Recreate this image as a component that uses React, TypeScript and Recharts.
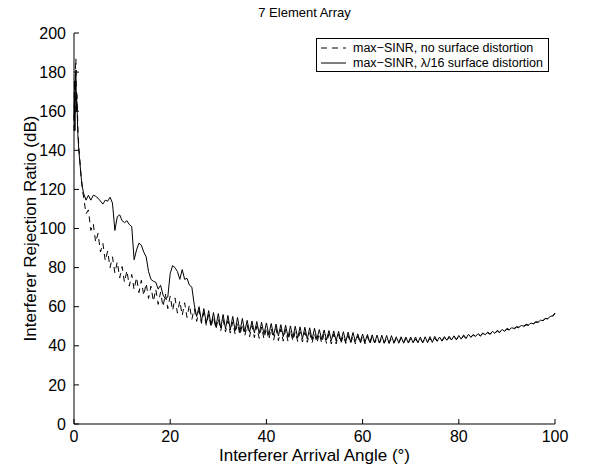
import { Legend, Line, LineChart, XAxis, YAxis } from "recharts"

// Angle grid: finer steps near broadside, then every half degree
const fineAngles = [0, 0.1, 0.2, 0.3, 0.4, 0.5, 0.6, 0.8, 1, 1.25, 1.5, 1.75, 2]
const coarseAngles = Array.from({ length: 196 }, (_, i) => 2.5 + i * 0.5)
const angles = [...fineAngles, ...coarseAngles]

// max-SINR, no surface distortion (dB)
const cleanDb = [
  150, 176, 158, 184, 187, 162, 170, 152, 142, 134, 126, 120, 116,
  107.5, 109.5, 99, 102.5, 93, 97.5, 88, 92.5, 83.5, 88.5, // 2.5 - 7
  80, 85.5, 77.2, 83, 74.7, 80.5, 72.5, 78.5, 70.5, 76.5, // 7.5 - 12
  68.7, 75, 67.2, 73.5, 65.7, 72, 64.2, 70.5, 62.7, 69, // 12.5 - 17
  61.2, 67.5, 60, 66.5, 59, 65.5, 58, 64.5, 56.7, 63, // 17.5 - 22
  55.5, 62, 54.5, 61, 53.5, 59, 52.5, 58, 51.5, 57, // 22.5 - 27
  50.5, 56, 49.5, 55, 48.5, 54, 47.7, 53.4, 47.1, 52.8, // 27.5 - 32
  46.5, 52.2, 45.9, 51.7, 45.4, 51.2, 45, 50.8, 44.6, 50.4, // 32.5 - 37
  44.2, 50, 43.8, 49.6, 43.4, 49.3, 43.1, 49, 42.9, 48.8, // 37.5 - 42
  42.6, 48.5, 42.4, 48.3, 42.1, 48, 42.4, 47.3, 42.2, 47.1, // 42.5 - 47
  42, 46.9, 41.8, 46.7, 41.6, 46.5, 41.4, 46.4, 41.3, 46.3, // 47.5 - 52
  41.2, 46.1, 41, 46, 41, 45.9, 41.3, 45.3, 41.2, 45.2, // 52.5 - 57
  41.1, 45.1, 41, 45, 41, 45, 41, 44.9, 40.9, 44.8, // 57.5 - 62
  41.5, 43.9, 41.5, 43.9, 41.4, 43.8, 41.4, 43.8, 41.3, 43.7, // 62.5 - 67
  41.3, 43.7, 41.3, 43.7, 41.3, 43.7, 41.7, 43.4, 41.8, 43.4, // 67.5 - 72
  41.9, 43.5, 42, 43.6, 42.1, 43.8, 42.3, 43.9, 42.4, 44.1, // 72.5 - 77
  42.6, 44.3, 42.9, 44.6, 43.1, 44.8, 43.7, 44.8, 44, 45.1, // 77.5 - 82
  44.3, 45.5, 44.7, 45.8, 45, 46.2, 45.4, 46.6, 45.9, 47.1, // 82.5 - 87
  46.3, 47.5, 46.8, 48, 47.3, 48.5, 48, 48.9, 48.6, 49.5, // 87.5 - 92
  49.2, 50.1, 49.8, 50.7, 50.4, 51.3, 51.1, 52.1, 52, 53, // 92.5 - 97
  52.9, 53.9, 53.8, 54.9, 55, 56.5, // 97.5 - 100
]

// max-SINR, lambda/16 surface distortion (dB)
const distortedDb = [
  155, 170, 150, 176, 181, 160, 165, 148, 140, 133, 126, 121, 118,
  114.5, 117, 114.5, 117, 116.5, 115.5, 114, 112.5, 114.5, 114, // 2.5 - 7
  116, 113, 99, 106, 107, 104, 103, 104, 102, 101, // 7.5 - 12
  84, 89, 92.5, 91.5, 88, 85.5, 78, 74, 73, 72.5, // 12.5 - 17
  69, 71, 66, 64, 65, 77, 81, 80, 78, 74, // 17.5 - 22
  79, 74, 74.5, 71, 70, 61, 55, 60, 52.5, 59, // 22.5 - 27
  51.5, 58, 50.5, 57, 49.7, 56.5, 49.2, 56, 48.7, 55.5, // 27.5 - 32
  48.2, 55, 47.7, 54.5, 47.2, 54, 47.2, 53, 46.9, 52.7, // 32.5 - 37
  46.5, 52.4, 46.2, 52, 45.9, 51.7, 45.6, 51.4, 45.3, 51.1, // 37.5 - 42
  45, 50.8, 44.7, 50.5, 44.4, 50.2, 44.1, 50, 43.9, 49.7, // 42.5 - 47
  43.6, 49.5, 43.4, 49.2, 43.1, 49, 43.4, 48.3, 43.2, 48.1, // 47.5 - 52
  43, 47.8, 42.7, 47.6, 42.5, 47.4, 42.3, 47.2, 42.1, 47, // 52.5 - 57
  41.9, 46.8, 42.2, 46.1, 42, 46, 41.9, 45.8, 41.7, 45.6, // 57.5 - 62
  41.5, 45.5, 41.4, 45.4, 41.3, 45.3, 41.2, 45.2, 41.6, 44.6, // 62.5 - 67
  41.6, 44.6, 41.5, 44.5, 41.5, 44.5, 41.5, 44.5, 41.5, 44.5, // 67.5 - 72
  41.5, 44.6, 41.6, 44.7, 41.7, 44.8, 42.4, 44.5, 42.6, 44.7, // 72.5 - 77
  42.8, 44.9, 43, 45.1, 43.2, 45.3, 43.4, 45.6, 43.7, 45.9, // 77.5 - 82
  44.4, 45.8, 44.8, 46.2, 45.2, 46.6, 45.6, 47, 46, 47.4, // 82.5 - 87
  46.4, 47.9, 46.9, 48.4, 47.4, 48.9, 48.3, 49.2, 48.9, 49.8, // 87.5 - 92
  49.5, 50.4, 50.1, 51, 50.7, 51.6, 51.3, 52.3, 52.1, 53.1, // 92.5 - 97
  52.9, 54, 53.9, 55, 55.3, 56.8, // 97.5 - 100
]

const xTicks = [0, 20, 40, 60, 80, 100]
const yTicks = [0, 20, 40, 60, 80, 100, 120, 140, 160, 180, 200]

const legendItems = [
  { label: "max\u2212SINR, no surface distortion", dash: "6 5" },
  { label: "max\u2212SINR, \u03bb/16 surface distortion", dash: undefined },
]

const rows = angles.map((angle, i) => ({
  angle,
  clean: cleanDb[i],
  distorted: distortedDb[i],
}))

const FONT = '"Liberation Sans", Arial, Helvetica, sans-serif'
const blank = () => ""

function LegendBox() {
  return (
    <div
      style={{
        width: 233,
        height: 34,
        boxSizing: "border-box",
        border: "1px solid #000",
        background: "#fff",
        fontSize: 12.5,
        color: "#000",
        paddingTop: 2,
        lineHeight: "14px",
      }}
    >
      {legendItems.map((item) => (
        <div key={item.label} style={{ display: "flex", alignItems: "center", height: 14.5 }}>
          <svg width={36} height={10} style={{ flex: "none" }}>
            <line x1={4} x2={29} y1={5} y2={5} stroke="#000" strokeWidth={1} strokeDasharray={item.dash} />
          </svg>
          <span style={{ whiteSpace: "nowrap" }}>{item.label}</span>
        </div>
      ))}
    </div>
  )
}

export default function App() {
  return (
    <div style={{ position: "absolute", left: 0, top: 0, width: 604, height: 464, background: "#fff", fontFamily: FONT }}>
      {/* title centred over the plot box */}
      <div
        style={{
          position: "absolute",
          left: 64,
          width: 481,
          top: 5,
          textAlign: "center",
          fontSize: 13,
          lineHeight: "15px",
          color: "#000",
        }}
      >
        7 Element Array
      </div>
      <LineChart width={604} height={464} data={rows} margin={{ top: 33, right: 49, bottom: 0, left: 0 }}>
        <XAxis
          dataKey="angle"
          type="number"
          domain={[0, 100]}
          ticks={xTicks}
          height={40}
          stroke="#000"
          tickSize={-5}
          tickMargin={12}
          tick={{ fill: "#000", fontSize: 16 }}
          label={{ value: "Interferer Arrival Angle (\u00b0)", position: "insideBottom", offset: 3, fill: "#000", fontSize: 17 }}
        />
        <XAxis
          xAxisId="top"
          orientation="top"
          dataKey="angle"
          type="number"
          domain={[0, 100]}
          ticks={xTicks}
          height={0}
          stroke="#000"
          tickSize={-5}
          tickFormatter={blank}
        />
        <YAxis
          type="number"
          domain={[0, 200]}
          ticks={yTicks}
          width={74}
          stroke="#000"
          tickSize={-5}
          tickMargin={13}
          tick={{ fill: "#000", fontSize: 16 }}
          label={{
            value: "Interferer Rejection Ratio (dB)",
            angle: -90,
            position: "insideLeft",
            offset: 30,
            fill: "#000",
            fontSize: 17,
            style: { textAnchor: "middle" },
          }}
        />
        <YAxis
          yAxisId="right"
          orientation="right"
          type="number"
          domain={[0, 200]}
          ticks={yTicks}
          width={0}
          stroke="#000"
          tickSize={-5}
          tickFormatter={blank}
        />
        <Legend
          layout="horizontal"
          align="center"
          verticalAlign="middle"
          wrapperStyle={{ left: 316, top: 38, width: 233 }}
          content={() => <LegendBox />}
        />
        <Line
          dataKey="clean"
          type="linear"
          stroke="#000"
          strokeWidth={1}
          strokeDasharray="6 5"
          dot={false}
          isAnimationActive={false}
        />
        <Line
          dataKey="distorted"
          type="linear"
          stroke="#000"
          strokeWidth={1}
          dot={false}
          isAnimationActive={false}
        />
      </LineChart>
    </div>
  )
}
